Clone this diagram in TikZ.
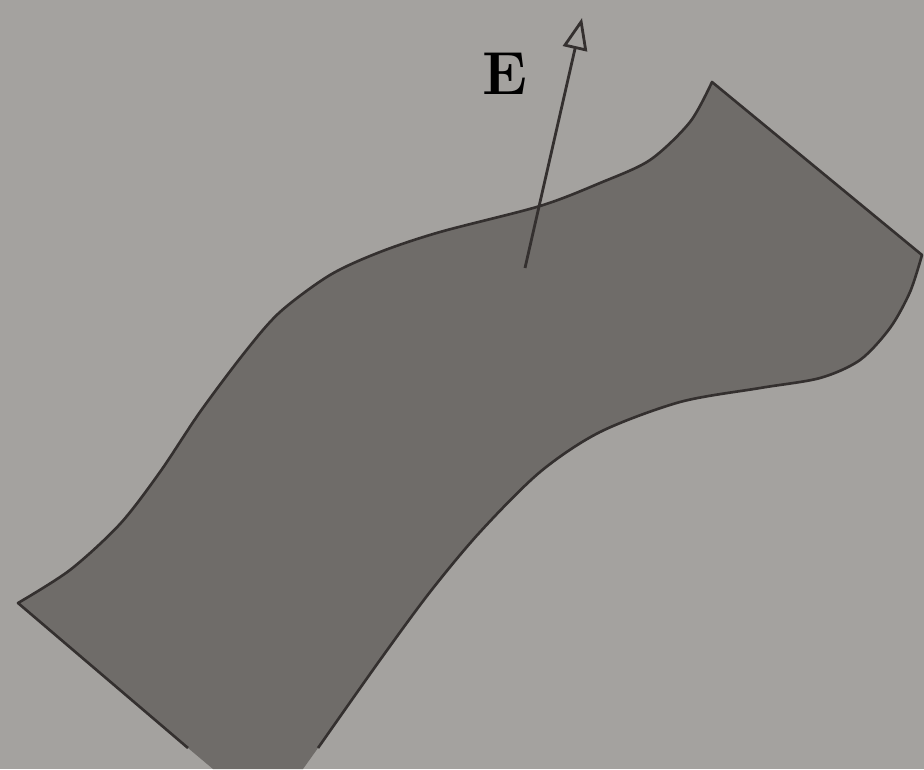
\documentclass[tikz,border=0pt]{standalone}
\usepackage{tikz}
\usetikzlibrary{arrows.meta}
\usepackage{amsmath,amssymb}
\definecolor{paper}{RGB}{164,162,159}
\definecolor{sheet}{RGB}{111,108,105}
\definecolor{ink}{RGB}{52,48,47}

\begin{document}
\begin{tikzpicture}[x=0.01cm,y=-0.01cm,
  edge/.style={draw=ink,line width=0.75pt,line join=round},
  field/.style={draw=ink,line width=0.8pt,-{Triangle[open,length=9pt,width=7pt]}}]
\fill[paper] (0,0) rectangle (924,769);
% the surface
\fill[sheet] (18,603) -- (188,748) -- (213,769) -- (303,769) -- (318,748)
--plot[smooth] coordinates {(318,748) (380,660) (430,592) (480,532) (540,472) (600,432) (680,402) (760,388) (820,378) (860,360) (890,328) (910,292) (922,255)}
-- (712,82)
--plot[smooth] coordinates {(712,82) (690,122) (650,160) (600,183) (540,206) (440,232) (380,252) (330,275) (280,312) (245,352) (200,412) (160,472) (120,524) (70,570) (18,603)}
-- cycle;
\draw[edge] (188,748) -- (18,603)
--plot[smooth] coordinates {(18,603) (70,570) (120,524) (160,472) (200,412) (245,352) (280,312) (330,275) (380,252) (440,232) (540,206) (600,183) (650,160) (690,122) (712,82)}
-- (922,255)
--plot[smooth] coordinates {(922,255) (910,292) (890,328) (860,360) (820,378) (760,388) (680,402) (600,432) (540,472) (480,532) (430,592) (380,660) (318,748)};
% field vector
\coordinate (tail) at (525,268);
\coordinate (head) at (582,18);
\draw[field] (tail) -- (head);
\node (E) at (505,74) {\fontsize{18}{20}\selectfont$\mathbf{E}$};
\end{tikzpicture}
\end{document}
